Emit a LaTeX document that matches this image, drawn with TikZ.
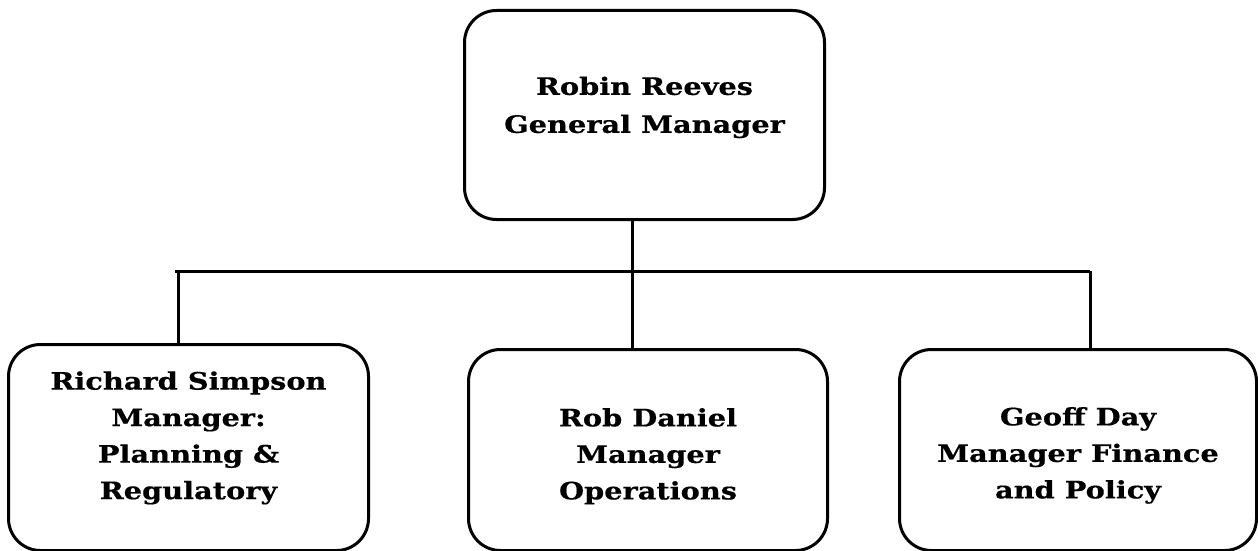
\documentclass[tikz,border=0pt]{standalone}
\usepackage{fontspec}
\setmainfont{DejaVu Serif}[BoldFeatures={FakeStretch=1.2,FakeBold=0.6}]
\begin{document}
\begin{tikzpicture}[x=1pt,y=-1pt,
  box/.style={draw, line width=3pt, rounded corners=32pt, anchor=north west, inner sep=0pt,
    align=center, font=\fontsize{24}{36.5}\selectfont\bfseries},
  conn/.style={line width=3pt}]
\useasboundingbox (0,0) rectangle (1258,551);
\node[box, minimum width=360pt, minimum height=209pt, font=\fontsize{24}{38}\selectfont\bfseries] (top) at (463,9) {Robin Reeves\\General Manager\\[-17.5pt]};
\node[box, minimum width=360pt, minimum height=206pt] (left) at (7,343) {Richard Simpson\\Manager:\\Planning \&\\Regulatory\\[-12pt]};
\node[box, minimum width=359pt, minimum height=201pt] (mid) at (467,348) {Rob Daniel\\Manager\\Operations\\[-44pt]};
\node[box, minimum width=357pt, minimum height=201pt] (right) at (898,348) {Geoff Day\\Manager Finance\\and Policy\\[-42pt]};
\coordinate (j) at (632,271);
\coordinate (hl) at (175,271);
\coordinate (hr) at (1090,271);
\coordinate (jl) at (178,271);
\coordinate (jr) at (1090,271);
\draw[conn] (top.south -| j) -- (j);
\draw[conn] (hl) -- (hr);
\draw[conn] (jl) -- (jl |- left.north);
\draw[conn] (j) -- (j |- mid.north);
\draw[conn] (jr) -- (jr |- right.north);
\end{tikzpicture}
\end{document}
